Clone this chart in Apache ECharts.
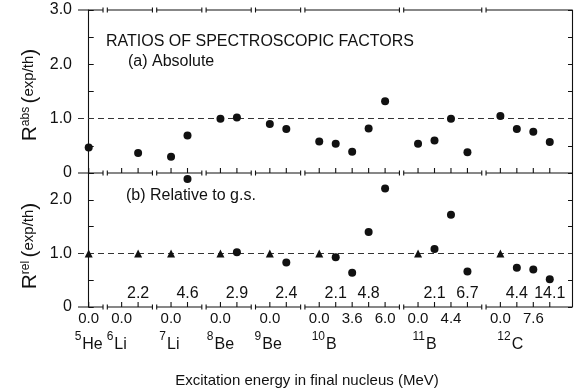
<!DOCTYPE html>
<html>
<head>
<meta charset="utf-8">
<script src="https://cdn.jsdelivr.net/npm/echarts@6/dist/echarts.min.js"></script>
<style>
  html, body { margin: 0; padding: 0; background: #fff; }
  #chart { width: 574px; height: 391px; }
</style>
</head>
<body>
<div id="chart"></div>
<script>
// Each level occupies one slot on the horizontal axis; empty slots separate nuclei.
const stateSlots = [0, 2, 3, 5, 6, 8, 9, 11, 12, 14, 15, 16, 17, 18, 20, 21, 22, 23, 25, 26, 27, 28];
const breakSlots = [1, 4, 7, 10, 13, 19, 24];

// (a) Absolute ratios R_abs (exp/th)
const absSlots  = [0, 3, 5, 6, 8, 9, 11, 12, 14, 15, 16, 17, 18, 20, 21, 22, 23, 25, 26, 27, 28];
const absValues = [0.47, 0.37, 0.30, 0.69, 1.00, 1.02, 0.90, 0.81, 0.58, 0.54, 0.39, 0.82, 1.32,
                   0.54, 0.60, 1.00, 0.38, 1.05, 0.81, 0.76, 0.57];

// (b) Ratios relative to the ground state; triangles are the reference levels
const refSlots  = [0, 3, 5, 8, 11, 14, 20, 25];
const refValues = [1, 1, 1, 1, 1, 1, 1, 1];
const relSlots  = [6, 9, 12, 15, 16, 17, 18, 21, 22, 23, 26, 27, 28];
const relValues = [2.39, 1.02, 0.83, 0.93, 0.64, 1.40, 2.21, 1.08, 1.72, 0.66, 0.73, 0.70, 0.52];

// Excitation energies (MeV) printed under the axis
const lowerLabelSlots = [0, 2, 5, 8, 11, 14, 16, 18, 20, 22, 25, 27];
const lowerLabels     = ['0.0', '0.0', '0.0', '0.0', '0.0', '0.0', '3.6', '6.0', '0.0', '4.4', '0.0', '7.6'];
// Excitation energies (MeV) printed just above the axis of panel (b)
const upperLabelSlots = [3, 6, 9, 12, 15, 17, 21, 23, 26, 28];
const upperLabels     = ['2.2', '4.6', '2.9', '2.4', '2.1', '4.8', '2.1', '6.7', '4.4', '14.1'];

// Final nuclei
const nucleusMass   = ['5', '6', '7', '8', '9', '10', '11', '12'];
const nucleusSymbol = ['He', 'Li', 'Li', 'Be', 'Be', 'B', 'B', 'C'];
const nucleusSlots  = [0, 1.7, 4.9, 8, 10.9, 14.3, 20.4, 25.6];

const X_MIN = -0.65, X_MAX = 29.35;
const GAP = 0.13;          // half-width of an axis interruption, in slots
const FONT = '"Liberation Sans", Arial, sans-serif';
const INK = '#111';

function textAt(labels, dy, size) {
  return function (params, api) {
    const p = api.coord([api.value(0), 0]);
    return {
      type: 'text', x: p[0], y: p[1] + dy,
      style: { text: labels[api.value(1)], fill: INK, font: size + 'px ' + FONT, align: 'center', verticalAlign: 'middle' }
    };
  };
}

function nucleusLabel(params, api) {
  const p = api.coord([api.value(0), 0]);
  const i = api.value(1);
  return {
    type: 'text', x: p[0], y: p[1] + 35,
    style: {
      text: '{m|' + nucleusMass[i] + '}{s|' + nucleusSymbol[i] + '}',
      align: 'center', verticalAlign: 'middle',
      rich: {
        m: { fontSize: 12, fontFamily: FONT, fill: INK, verticalAlign: 'top', lineHeight: 22, padding: [0, 1, 0, 0] },
        s: { fontSize: 16, fontFamily: FONT, fill: INK, verticalAlign: 'bottom', lineHeight: 22 }
      }
    }
  };
}

const yLabelFmt = v => (v === 0 ? '0' : (Number.isInteger(v) ? v.toFixed(1) : ''));

function leftAxis(grid, max) {
  return {
    type: 'value', gridIndex: grid, min: 0, max: max, interval: 0.5, position: 'left',
    axisLine: { show: true, lineStyle: { color: INK, width: 1.1 } },
    axisTick: { show: true, inside: true, length: 5, lineStyle: { color: INK } },
    axisLabel: { formatter: yLabelFmt, color: INK, fontSize: 16, fontFamily: FONT, margin: 6 },
    splitLine: { show: false }
  };
}
function rightAxis(grid, max) {
  return {
    type: 'value', gridIndex: grid, min: 0, max: max, interval: 0.5, position: 'right',
    axisLine: { show: true, lineStyle: { color: INK, width: 1.1 } },
    axisTick: { show: true, inside: true, length: 4, lineStyle: { color: INK } },
    axisLabel: { show: false }, splitLine: { show: false }
  };
}
function xAxisFor(grid) {
  return {
    type: 'value', gridIndex: grid, min: X_MIN, max: X_MAX,
    axisLine: { show: false }, axisTick: { show: false },
    axisLabel: { show: false }, splitLine: { show: false }
  };
}

// Interrupted horizontal frame line at height y: segments separated by null points
function brokenLineData(y) {
  const pts = [[X_MIN, y]];
  breakSlots.forEach(function (b) {
    pts.push([b - GAP, y], null, [b + GAP, y]);
  });
  pts.push([X_MAX, y]);
  return pts;
}
// Little end caps on both sides of every interruption
function breakCapData(y) {
  const pts = [];
  breakSlots.forEach(function (b) { pts.push([b - GAP, y], [b + GAP, y]); });
  return pts;
}

function frameSeries(xi, yi, y, withTicks) {
  const out = [
    { type: 'line', xAxisIndex: xi, yAxisIndex: yi, data: brokenLineData(y), connectNulls: false,
      symbol: 'none', clip: false, silent: true, z: 5, lineStyle: { color: INK, width: 1.1 } },
    { type: 'scatter', xAxisIndex: xi, yAxisIndex: yi, data: breakCapData(y), symbol: 'rect',
      symbolSize: [1.1, 5], clip: false, silent: true, z: 5, itemStyle: { color: INK, opacity: 1 } }
  ];
  if (withTicks) {
    out.push({ type: 'scatter', xAxisIndex: xi, yAxisIndex: yi, data: stateSlots.map(s => [s, y]),
      symbol: 'rect', symbolSize: [1.1, 5], symbolOffset: [0, -2.5], clip: false, silent: true, z: 5,
      itemStyle: { color: INK, opacity: 1 } });
  }
  return out;
}

const unityLine = {
  silent: true, symbol: 'none', label: { show: false },
  lineStyle: { type: [6, 4], color: '#333', width: 1 },
  data: [{ yAxis: 1 }]
};

const titleRich = {
  r: { fontSize: 21, fontFamily: FONT, fill: INK, verticalAlign: 'bottom', lineHeight: 24 },
  u: { fontSize: 12, fontFamily: FONT, fill: INK, verticalAlign: 'middle', lineHeight: 24, padding: [0, 0, 6, 0] },
  p: { fontSize: 21, fontFamily: FONT, fill: INK, verticalAlign: 'bottom', lineHeight: 24 },
  t: { fontSize: 15, fontFamily: FONT, fill: INK, verticalAlign: 'middle', lineHeight: 24 }
};

const chart = echarts.init(document.getElementById('chart'));
chart.setOption({
  animation: false,
  backgroundColor: '#fff',
  grid: [
    { left: 78, right: 2, top: 10, height: 163 },
    { left: 78, right: 2, top: 173, height: 134 }
  ],
  xAxis: [xAxisFor(0), xAxisFor(1)],
  yAxis: [leftAxis(0, 3), rightAxis(0, 3), leftAxis(1, 2.5), rightAxis(1, 2.5)],
  series: [].concat(
    frameSeries(0, 0, 3, false),
    frameSeries(0, 0, 0, true),
    frameSeries(1, 2, 0, true),
    [
      {
        type: 'scatter', xAxisIndex: 0, yAxisIndex: 0, symbol: 'circle', symbolSize: 8,
        itemStyle: { color: INK, opacity: 1 }, z: 6,
        data: absSlots.map((s, i) => [s, absValues[i]]),
        markLine: unityLine
      },
      {
        type: 'scatter', xAxisIndex: 1, yAxisIndex: 2, symbol: 'circle', symbolSize: 8,
        itemStyle: { color: INK, opacity: 1 }, z: 6,
        data: relSlots.map((s, i) => [s, relValues[i]]),
        markLine: unityLine
      },
      {
        type: 'scatter', xAxisIndex: 1, yAxisIndex: 2, symbol: 'triangle', symbolSize: 8,
        itemStyle: { color: INK, opacity: 1 }, z: 6,
        data: refSlots.map((s, i) => [s, refValues[i]])
      },
      { type: 'custom', xAxisIndex: 1, yAxisIndex: 2, renderItem: textAt(upperLabels, -13, 16), clip: false,
        data: upperLabelSlots.map((s, i) => [s, i]), silent: true },
      { type: 'custom', xAxisIndex: 1, yAxisIndex: 2, renderItem: textAt(lowerLabels, 12, 15), clip: false,
        data: lowerLabelSlots.map((s, i) => [s, i]), silent: true },
      { type: 'custom', xAxisIndex: 1, yAxisIndex: 2, renderItem: nucleusLabel, clip: false,
        data: nucleusSlots.map((s, i) => [s, i]), silent: true }
    ]
  ),
  graphic: [
    { type: 'text', left: 106, top: 34, style: { text: 'RATIOS OF SPECTROSCOPIC FACTORS', font: '16px ' + FONT, fill: INK } },
    { type: 'text', left: 128, top: 54, style: { text: '(a) Absolute', font: '16px ' + FONT, fill: INK } },
    { type: 'text', left: 126, top: 188, style: { text: '(b) Relative to g.s.', font: '16px ' + FONT, fill: INK } },
    { type: 'text', x: 307, y: 381, style: { text: 'Excitation energy in final nucleus (MeV)', font: '15px ' + FONT, fill: INK, align: 'center', verticalAlign: 'middle' } },
    { type: 'text', x: 29, y: 95, rotation: Math.PI / 2,
      style: { text: '{r|R}{u|abs} {p|(}{t|exp/th}{p|)}', align: 'center', verticalAlign: 'middle', rich: titleRich } },
    { type: 'text', x: 29, y: 246, rotation: Math.PI / 2,
      style: { text: '{r|R}{u|rel} {p|(}{t|exp/th}{p|)}', align: 'center', verticalAlign: 'middle', rich: titleRich } }
  ]
});
</script>
</body>
</html>
